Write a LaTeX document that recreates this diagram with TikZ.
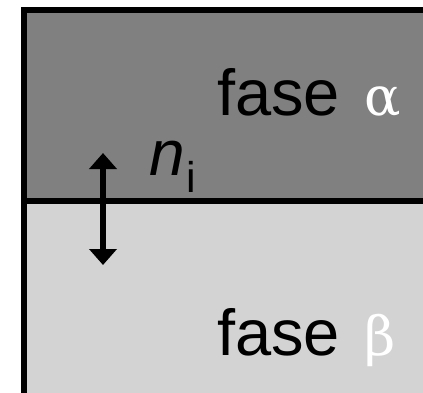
\documentclass[tikz,border=0pt]{standalone}
\usepackage{fontspec}
\setmainfont{Liberation Sans}
\newfontfamily\greekfont{DejaVu Serif}
\usetikzlibrary{arrows.meta}
\definecolor{phasedark}{HTML}{808080}
\definecolor{phaselight}{HTML}{D3D3D3}

\begin{document}
\begin{tikzpicture}[x=1pt, y=-1pt,
    phaselabel/.style={font=\fontsize{65}{78}\selectfont, anchor=base west, inner sep=0pt},
    wall/.style={line width=6pt, line join=miter}]
  \clip (0,0) rectangle (423,392);
  % the two phases
  \fill[phasedark] (24,9.5) rectangle (440,201);
  \fill[phaselight] (24,201) rectangle (440,400);
  \draw[wall] (24,400) -- (24,9.5) -- (440,9.5);
  \draw[wall] (24,201) -- (440,201);
  \node[phaselabel] (alpha) at (217,115) {fase\hspace{24pt}{\greekfont\fontsize{54}{60}\selectfont\color{white}α}};
  \node[phaselabel] (beta) at (217,355) {fase\hspace{24pt}{\greekfont\fontsize{54}{60}\selectfont\color{white}β}};
  % interface normal
  \coordinate (top) at (103,153);
  \coordinate (bot) at (103,265);
  \draw[line width=6pt, {Triangle[width=27pt,length=16pt]}-{Triangle[width=27pt,length=16pt]}] (top) -- (bot);
  \node[anchor=base west, inner sep=0pt] (ni) at (149,175)
    {\fontsize{64}{72}\selectfont\textit{n}\hspace{2pt}\raisebox{-17pt}{\fontsize{43}{50}\selectfont i}};
\end{tikzpicture}
\end{document}
